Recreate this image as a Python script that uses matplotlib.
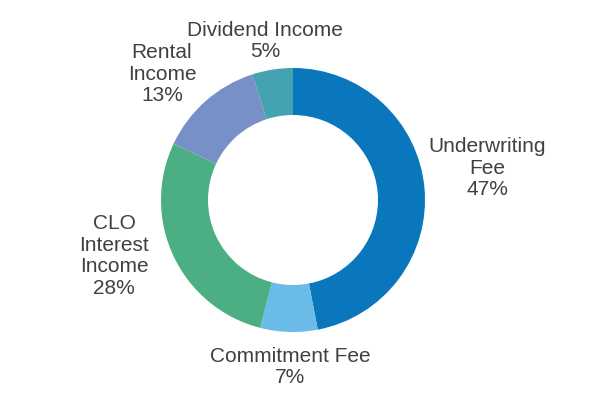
import matplotlib.pyplot as plt

# Data
labels = ['Underwriting\nFee', 'Commitment Fee', 'CLO\nInterest\nIncome', 'Rental\nIncome', 'Dividend Income']
shares = [47, 7, 28, 13, 5]
colors = ['#0a77bd', '#6bbbe8', '#4caf84', '#7790c7', '#44a3b0']

# label block centres in pixel space (x, y from top)
label_pos = [(487, 168), (290, 367), (114, 256), (162, 74), (265, 41)]

fig = plt.figure(figsize=(6, 4.05), dpi=100)
ax = fig.add_axes([0, 0, 1, 1])
ax.set_xlim(0, 600)
ax.set_ylim(0, 405)

ax.pie(shares, colors=colors, startangle=90, counterclock=False,
       center=(293, 205), radius=132, frame=True,
       wedgeprops=dict(width=47, edgecolor='none'))

for lab, val, (px, py) in zip(labels, shares, label_pos):
    ax.text(px, 405 - py, f'{lab}\n{val}%', ha='center', va='center',
            multialignment='center', fontsize=15, linespacing=1.17,
            color='#404040', family=['Liberation Sans', 'DejaVu Sans'])

ax.set_xlim(0, 600)
ax.set_ylim(0, 405)
ax.axis('off')

fig.savefig('out.png', dpi=100)
